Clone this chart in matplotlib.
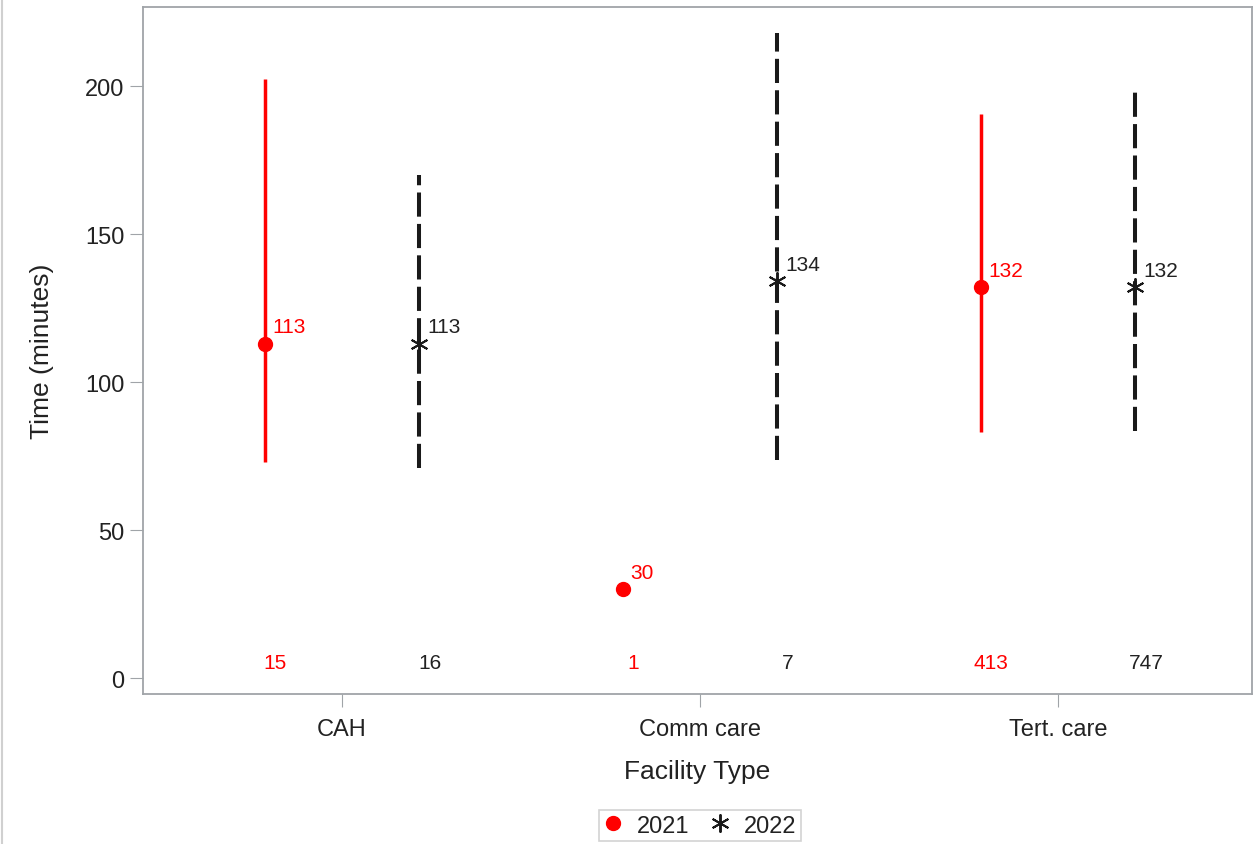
import matplotlib
matplotlib.use("Agg")
import matplotlib.pyplot as plt
import numpy as np

categories = ["CAH", "Comm care", "Tert. care"]
mean_2021 = [113, 30, 132]
low_2021 = [73, np.nan, 83]
high_2021 = [202.5, np.nan, 190.5]
n_2021 = [15, 1, 413]
mean_2022 = [113, 134, 132]
low_2022 = [71, 73.5, 83.5]
high_2022 = [170, 218, 199]
n_2022 = [16, 7, 747]

plt.rcParams['font.family'] = ['Liberation Sans', 'DejaVu Sans']
txt = "#222222"

fig = plt.figure(figsize=(12.54, 8.45), dpi=100)
ax = fig.add_axes([143/1254, 1-695/845, (1252-143)/1254, (695-8)/845])

x = np.arange(len(categories))
off = 0.216
red = "#ff0000"
blk = "#1a1a1a"
x1 = x - off
x2 = x + off

for xi, lo, hi in zip(x1, low_2021, high_2021):
    if not np.isnan(lo):
        ax.plot([xi, xi], [lo, hi], color=red, lw=2.5, solid_capstyle='butt', zorder=2)
for xi, lo, hi in zip(x2, low_2022, high_2022):
    ax.plot([xi, xi], [lo, hi], color=blk, lw=2.9, linestyle=(0, (6.0, 1.8)),
            dash_capstyle='butt', zorder=2)

ax.plot(x1, mean_2021, linestyle='none', marker='o', color=red, ms=10, zorder=3, label="2021")
ax.plot(x2, mean_2022, linestyle='none', marker=(6, 2, 0), color=blk, ms=13, mew=1.4, zorder=3, label="2022")

for xi, m in zip(x1, mean_2021):
    ax.annotate(str(m), (xi, m), xytext=(5.5, 8), textcoords='offset points',
                ha='left', va='baseline', color=red, fontsize=15)
for xi, m in zip(x2, mean_2022):
    ax.annotate(str(m), (xi, m), xytext=(5.5, 8), textcoords='offset points',
                ha='left', va='baseline', color=txt, fontsize=15)

for xi, n in zip(x1, n_2021):
    ax.text(xi + 0.03, 5.4, str(n), color=red, ha='center', va='center', fontsize=15)
for xi, n in zip(x2, n_2022):
    ax.text(xi + 0.03, 5.4, str(n), color=txt, ha='center', va='center', fontsize=15)

ax.set_xlim(-0.556, 2.542)
ax.set_ylim(-5.4, 226.7)
ax.set_xticks(x)
ax.set_xticklabels(categories)
ax.set_yticks([0, 50, 100, 150, 200])
ax.tick_params(axis='y', labelsize=17, length=9.5, color='#a0a4a8', pad=4, labelcolor=txt)
ax.tick_params(axis='x', labelsize=17, length=9, color='#a0a4a8', pad=8, labelcolor=txt)
for s in ax.spines.values():
    s.set_color('#a0a4a8')
    s.set_linewidth(1.3)
ax.set_xlabel("Facility Type", fontsize=19, labelpad=14, color=txt)
ax.set_ylabel("Time (minutes)", fontsize=19, labelpad=22, color=txt)

leg = fig.legend(handles=ax.get_lines()[-2:], labels=["2021", "2022"], loc='upper center',
                 bbox_to_anchor=(700/1254, 1-811/845), ncol=2, frameon=True, fancybox=False,
                 fontsize=17, handlelength=0.8, handletextpad=0.6, columnspacing=0.9,
                 borderpad=0.2, borderaxespad=0, labelcolor=txt)
leg.get_frame().set_edgecolor('#c8c8c8')
leg.get_frame().set_linewidth(1.2)

fig.add_artist(plt.Line2D([2/1254, 2/1254], [0, 1], color='#d0d0d0', lw=1.5))

fig.savefig("out.png", dpi=100)
